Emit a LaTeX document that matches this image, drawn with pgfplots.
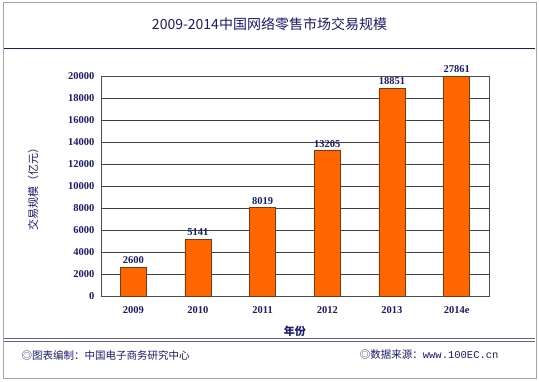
\documentclass[border=0pt]{standalone}
\usepackage{pgfplots}
\pgfplotsset{compat=1.18}
\usepackage{fontspec}
\setmainfont{Liberation Serif}
\newfontfamily\cjk{Noto Sans CJK SC}
\newfontfamily\mono{Liberation Mono}
\definecolor{dblue}{HTML}{1A1A6E}
\definecolor{barorange}{HTML}{FF6600}
\definecolor{baredge}{HTML}{7A3A10}
\begin{document}
\begin{tikzpicture}[x=1pt,y=1pt]
\path (0,0) rectangle (539,381);
\draw[gray!70, line width=1pt] (3,3) rectangle (536,378);
\draw[dblue, line width=0.8pt] (4,333) -- (535,333);
\node[text=dblue, font=\cjk\fontsize{14}{16}\selectfont] at (269.5,357) {2009-2014中国网络零售市场交易规模};
\draw[dblue!70, line width=0.6pt] (4,43) -- (535,43);
\draw[dblue!70, line width=0.6pt] (4,40) -- (535,40);
\node[anchor=west, text=dblue, font=\cjk\fontsize{10.5}{12}\selectfont] at (18,26) {◎图表编制：中国电子商务研究中心};
\node[anchor=east, text=dblue, font=\fontsize{10.5}{12}\selectfont] at (502,26) {{\cjk ◎数据来源：}{\mono www.100EC.cn}};
\begin{axis}[
  at={(101pt,85pt)}, anchor=south west,
  scale only axis, width=388pt, height=220pt,
  xmin=-0.5, xmax=5.5, ymin=0, ymax=20000,
  ytick={0,2000,...,20000},
  xtick={0,1,2,3,4,5},
  xticklabels={2009,2010,2011,2012,2013,2014e},
  major x tick style={draw=none},
  extra x ticks={0.5,1.5,2.5,3.5,4.5},
  extra x tick labels={},
  extra x tick style={major tick length=3pt, tick style={draw=gray, line width=0.6pt}, grid=none},
  scaled y ticks=false,
  /pgf/number format/1000 sep={},
  /pgf/number format/assume math mode=true,
  ymajorgrids, grid style={black!75, line width=0.6pt},
  ytick style={draw=none},
  axis line style={gray!60!black, line width=0.6pt},
  tick label style={font=\bfseries\fontsize{10.5}{12}\selectfont, text=dblue},
  yticklabel style={xshift=-3pt},
  xticklabel style={yshift=-3pt},
  xlabel={\cjk\bfseries 年份}, xlabel style={text=dblue, font=\fontsize{11}{13}\selectfont, yshift=2pt},
  ylabel={\cjk 交易规模（亿元）},
  ylabel style={text=dblue, font=\fontsize{11}{13}\selectfont, at={(axis description cs:-0.175,0.5)}, anchor=center},
  ybar, bar width=26pt,
  point meta=explicit,
  nodes near coords={\pgfmathprintnumber[fixed,precision=0,1000 sep={}]{\pgfplotspointmeta}},
  nodes near coords style={font=\bfseries\fontsize{10.5}{12}\selectfont, text=dblue, /pgf/number format/assume math mode=true},
  clip=false,
]
\addplot[fill=barorange, draw=baredge, line width=0.6pt] table[meta=label] {
x y label
0 2600 2600
1 5141 5141
2 8019 8019
3 13205 13205
4 18851 18851
5 20000 27861
};
\end{axis}
\end{tikzpicture}
\end{document}
